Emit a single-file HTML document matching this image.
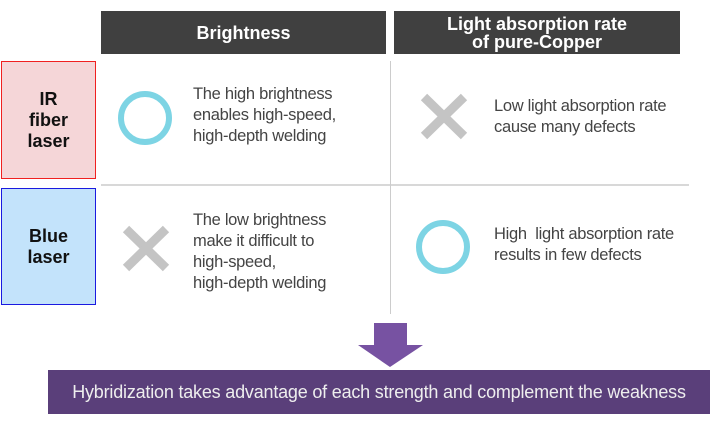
<!DOCTYPE html>
<html><head><meta charset="utf-8"><style>
body{margin:0;width:712px;height:424px;background:#fff;position:relative;overflow:hidden;font-family:"Liberation Sans",sans-serif}
.a{position:absolute}
.h{background:#404040;color:#fff;font-weight:bold;font-size:18px;text-align:center;display:flex;align-items:center;justify-content:center;line-height:18px}
.lb{font-weight:bold;font-size:18px;color:#111;text-align:center;display:flex;align-items:center;justify-content:center;line-height:21px;box-sizing:border-box}
.t{color:#444;font-size:16.5px;line-height:21px;letter-spacing:-0.3px;white-space:nowrap}
</style></head><body>
<div class="a h" style="left:101px;top:11px;width:285px;height:43px">Brightness</div>
<div class="a h" style="left:394px;top:11px;width:286px;height:43px">Light absorption rate<br>of pure-Copper</div>
<div class="a lb" style="left:1px;top:61px;width:95px;height:118px;background:#f5d6d8;border:1.5px solid #f02020">IR<br>fiber<br>laser</div>
<div class="a lb" style="left:1px;top:188px;width:95px;height:117px;background:#c3e3fb;border:1.5px solid #1a1ae0">Blue<br>laser</div>
<div class="a" style="left:101px;top:184px;width:588px;height:2px;background:#d8d8d8"></div>
<div class="a" style="left:390px;top:61px;width:1px;height:253px;background:#ccc"></div>
<svg class="a" style="left:0;top:0" width="712" height="424">
<circle cx="145" cy="118" r="24" fill="none" stroke="#7dd4e4" stroke-width="6"/>
<circle cx="443" cy="247" r="24" fill="none" stroke="#7dd4e4" stroke-width="6"/>
<g stroke="#c4c4c4" stroke-width="9"><line x1="424" y1="97" x2="464" y2="136"/><line x1="464" y1="97" x2="424" y2="136"/>
<line x1="126" y1="229" x2="166" y2="268"/><line x1="166" y1="229" x2="126" y2="268"/></g>
<polygon points="374,323 407,323 407,345 423,345 390,367 358,345 374,345" fill="#7752a2"/>
</svg>
<div class="a t" style="left:193px;top:84px">The high brightness<br>enables high-speed,<br>high-depth welding</div>
<div class="a t" style="left:494px;top:96px">Low light absorption rate<br>cause many defects</div>
<div class="a t" style="left:193px;top:210px">The low brightness<br>make it difficult to<br>high-speed,<br>high-depth welding</div>
<div class="a t" style="left:494px;top:224px">High&nbsp; light absorption rate<br>results in few defects</div>
<div class="a" style="left:48px;top:370px;width:662px;height:44px;background:#5a3f7a;color:#eee;font-size:18px;display:flex;align-items:center;justify-content:center;letter-spacing:-0.2px;white-space:nowrap">Hybridization takes advantage of each strength and complement the weakness</div>
</body></html>
